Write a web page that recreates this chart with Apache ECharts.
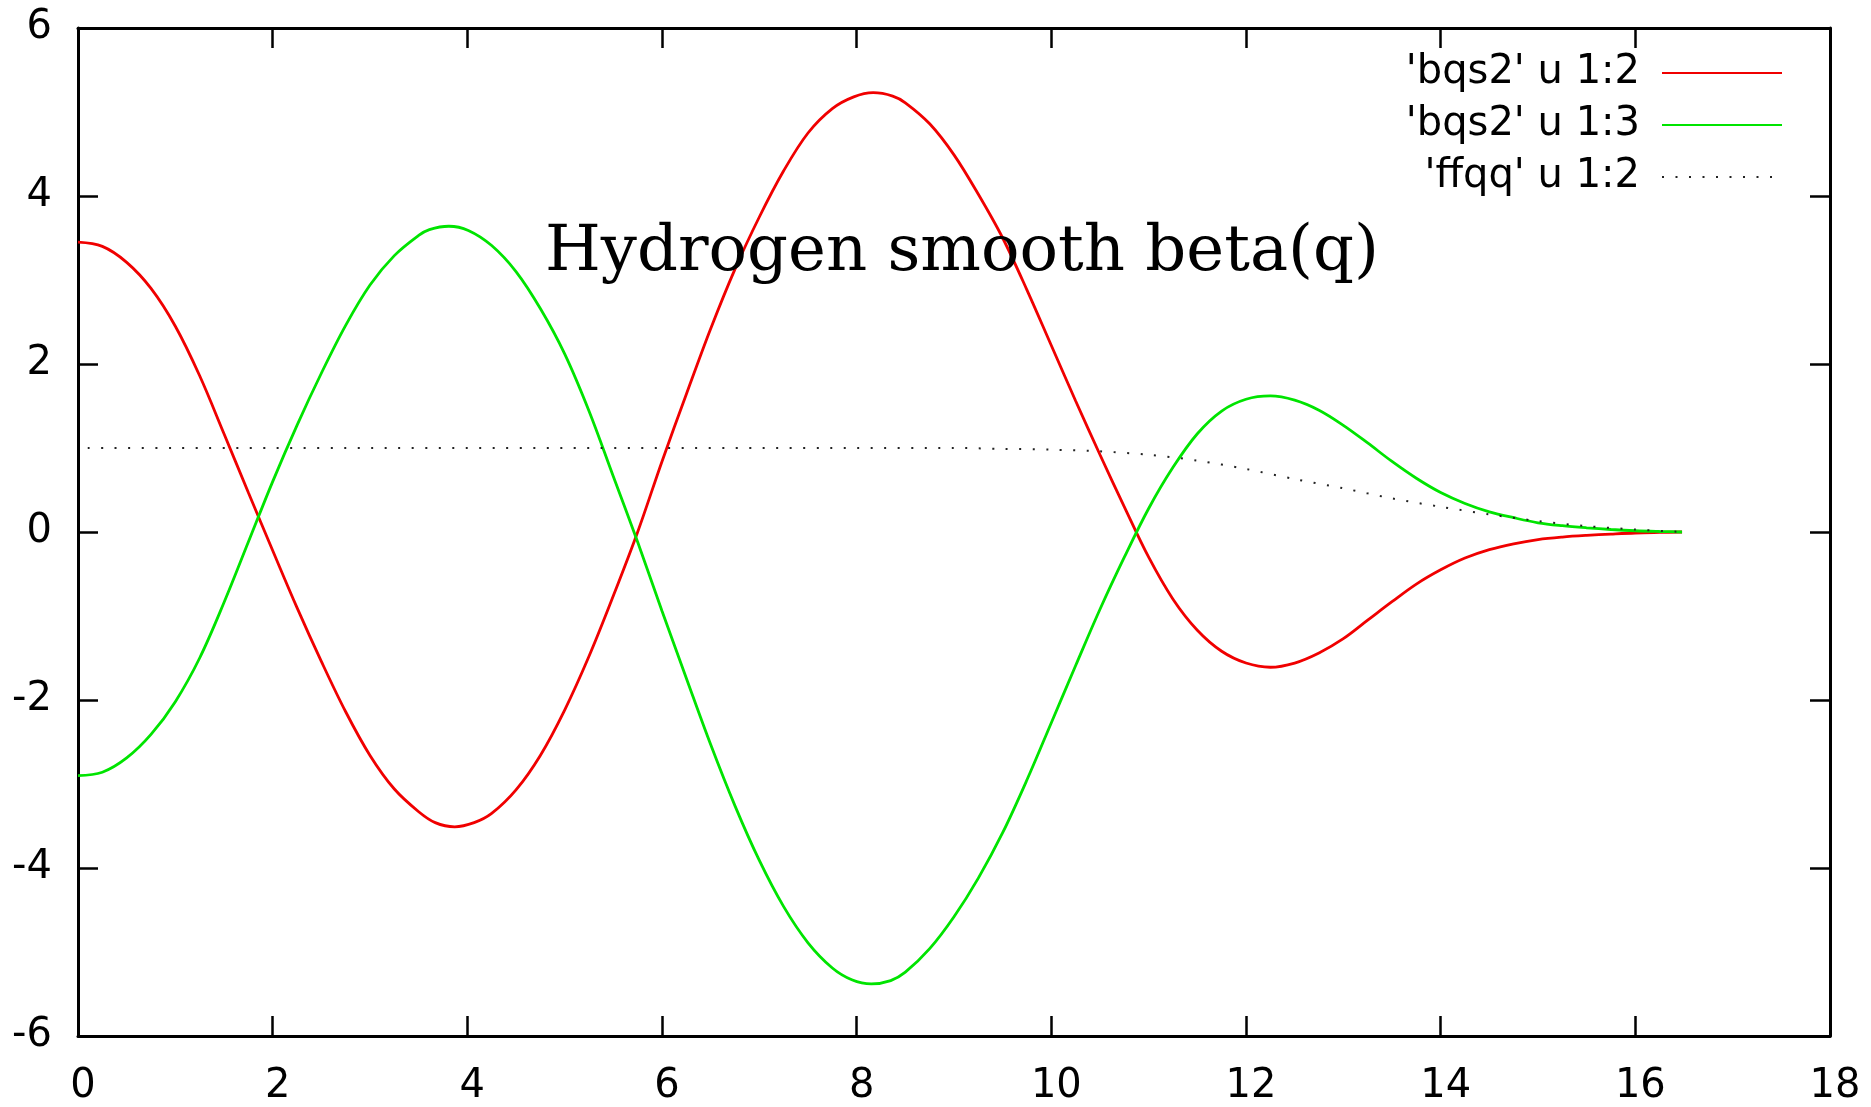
<!DOCTYPE html>
<html>
<head>
<meta charset="utf-8">
<title>Hydrogen smooth beta(q)</title>
<script src="https://cdn.jsdelivr.net/npm/echarts@6/dist/echarts.min.js"></script>
<style>
  html, body { margin: 0; padding: 0; background: #ffffff; }
  #chart { width: 1871px; height: 1107px; }
</style>
</head>
<body>
<div id="chart"></div>
<script>
// bqs2, column 2 against q (denser around the turning points)
const qBqs2Col2 = [0, 0.25, 0.5, 0.75, 1, 1.25, 1.5, 1.75, 2, 2.25, 2.5, 2.75, 3, 3.25, 3.5,
  3.67, 3.87, 4.07,
  4.25, 4.5, 4.75, 5, 5.25, 5.5, 5.75, 6, 6.25, 6.5, 6.75, 7, 7.25, 7.5, 7.75,
  7.97, 8.17, 8.37,
  8.5, 8.75, 9, 9.25, 9.5, 9.75, 10, 10.25, 10.5, 10.75, 11, 11.25, 11.5, 11.75,
  12, 12.25, 12.5, 12.75, 13, 13.25, 13.5, 13.75, 14, 14.25, 14.5, 14.75, 15, 15.25, 15.5, 15.75,
  16, 16.25, 16.48];
const bqs2Col2 = [3.45, 3.40, 3.21, 2.90, 2.45, 1.86, 1.17, 0.47, -0.22, -0.90, -1.54, -2.14, -2.66, -3.06, -3.33,
  -3.46, -3.51, -3.46,
  -3.35, -3.07, -2.66, -2.12, -1.48, -0.76, 0.00, 0.84, 1.64, 2.42, 3.13, 3.75, 4.30, 4.75, 5.04,
  5.18, 5.23, 5.19,
  5.11, 4.86, 4.49, 4.02, 3.50, 2.88, 2.22, 1.56, 0.92, 0.30, -0.30, -0.80, -1.17, -1.42,
  -1.56, -1.61, -1.56, -1.44, -1.27, -1.05, -0.83, -0.62, -0.45, -0.31, -0.21, -0.14, -0.09, -0.06, -0.04, -0.025,
  -0.012, -0.005, 0];

// bqs2, column 3 against q
const qBqs2Col3 = [0, 0.25, 0.5, 0.75, 1, 1.25, 1.5, 1.75, 2, 2.25, 2.5, 2.75, 3, 3.25, 3.5,
  3.61, 3.81, 4.01,
  4.25, 4.5, 4.75, 5, 5.25, 5.5, 5.75, 6, 6.25, 6.5, 6.75, 7, 7.25, 7.5, 7.75,
  7.95, 8.15, 8.35,
  8.5, 8.75, 9, 9.25, 9.5, 9.75, 10, 10.25, 10.5, 10.75, 11, 11.25, 11.5, 11.75,
  12, 12.25, 12.5, 12.75, 13, 13.25, 13.5, 13.75, 14, 14.25, 14.5, 14.75, 15, 15.25, 15.5, 15.75,
  16, 16.25, 16.48];
const bqs2Col3 = [-2.90, -2.86, -2.69, -2.41, -2.02, -1.50, -0.84, -0.12, 0.60, 1.27, 1.89, 2.46, 2.94, 3.29, 3.53,
  3.60, 3.64, 3.59,
  3.41, 3.10, 2.66, 2.12, 1.44, 0.66, -0.12, -0.94, -1.74, -2.53, -3.26, -3.91, -4.46, -4.89, -5.19,
  -5.33, -5.38, -5.34,
  -5.24, -4.96, -4.58, -4.12, -3.58, -2.95, -2.27, -1.59, -0.92, -0.30, 0.28, 0.77, 1.17, 1.44,
  1.58, 1.62, 1.57, 1.45, 1.27, 1.06, 0.84, 0.64, 0.47, 0.34, 0.24, 0.17, 0.11, 0.075, 0.05, 0.03,
  0.015, 0.006, 0];

// ffqq, column 2 against q
const qFfqq = [0.1, 1, 2, 3, 4, 5, 6, 7, 8, 9, 9.5, 10, 10.5, 11, 11.5, 12, 12.5, 13, 13.5, 14, 14.5, 15, 15.5, 16, 16.48];
const ffqqCol2 = [1, 1, 1, 1, 1, 1, 1, 1, 1, 1.0, 0.99, 0.98, 0.96, 0.92, 0.85, 0.75, 0.63, 0.52, 0.40, 0.30, 0.21, 0.13, 0.07, 0.03, 0.0];

const seriesNames = ["'bqs2' u 1:2", "'bqs2' u 1:3", "'ffqq' u 1:2"];
const titleText = 'Hydrogen smooth beta(q)';
const xRange = { min: 0, max: 18, step: 2 };
const yRange = { min: -6, max: 6, step: 2 };

const pairs = (xs, ys) => xs.map((x, i) => [x, ys[i]]);

const FONT = 'DejaVu Sans';
const frameLine = { show: true, onZero: false, lineStyle: { color: '#000', width: 3 } };
const tick = { show: true, inside: true, length: 20, lineStyle: { color: '#000', width: 2.5 } };

const chart = echarts.init(document.getElementById('chart'), null, { renderer: 'canvas' });

chart.setOption({
  animation: false,
  backgroundColor: '#ffffff',
  title: {
    text: titleText,
    left: 545,
    top: 221,
    padding: 0,
    textStyle: {
      fontFamily: 'DejaVu Serif',
      fontWeight: 'normal',
      fontSize: 64,
      lineHeight: 64,
      color: '#000'
    }
  },
  legend: {
    orient: 'vertical',
    right: 88,
    top: 53,
    padding: 0,
    align: 'right',
    itemWidth: 120,
    itemHeight: 20,
    itemGap: 12,
    selectedMode: false,
    itemStyle: { opacity: 0 },
    textStyle: {
      fontFamily: FONT,
      fontSize: 40,
      lineHeight: 40,
      color: '#000',
      padding: [0, 17, 0, 0]
    },
    data: seriesNames
  },
  grid: { left: 78, top: 28, width: 1752, height: 1008, containLabel: false },
  xAxis: [
    {
      type: 'value', position: 'bottom',
      min: xRange.min, max: xRange.max, interval: xRange.step,
      axisLine: frameLine, axisTick: tick,
      splitLine: { show: false },
      axisLabel: { fontFamily: FONT, fontSize: 40, color: '#000', margin: 31, padding: [0, 0, 0, 10] }
    },
    {
      type: 'value', position: 'top',
      min: xRange.min, max: xRange.max, interval: xRange.step,
      axisLine: frameLine, axisTick: tick,
      splitLine: { show: false }, axisLabel: { show: false }
    }
  ],
  yAxis: [
    {
      type: 'value', position: 'left',
      min: yRange.min, max: yRange.max, interval: yRange.step,
      axisLine: frameLine, axisTick: tick,
      splitLine: { show: false },
      axisLabel: { fontFamily: FONT, fontSize: 40, color: '#000', margin: 26 }
    },
    {
      type: 'value', position: 'right',
      min: yRange.min, max: yRange.max, interval: yRange.step,
      axisLine: frameLine, axisTick: tick,
      splitLine: { show: false }, axisLabel: { show: false }
    }
  ],
  series: [
    {
      name: seriesNames[0], type: 'line', xAxisIndex: 0, yAxisIndex: 0,
      data: pairs(qBqs2Col2, bqs2Col2),
      smooth: 0.35, symbol: 'none', silent: true,
      lineStyle: { color: '#f00000', width: 2.8 },
      itemStyle: { color: '#f00000' }
    },
    {
      name: seriesNames[1], type: 'line', xAxisIndex: 0, yAxisIndex: 0,
      data: pairs(qBqs2Col3, bqs2Col3),
      smooth: 0.35, symbol: 'none', silent: true,
      lineStyle: { color: '#00e400', width: 2.8 },
      itemStyle: { color: '#00e400' }
    },
    {
      name: seriesNames[2], type: 'line', xAxisIndex: 0, yAxisIndex: 0,
      data: pairs(qFfqq, ffqqCol2),
      smooth: 0.3, symbol: 'none', silent: true,
      lineStyle: { color: '#222', width: 2, type: [2, 11.5], cap: 'butt' },
      itemStyle: { color: '#222' }
    }
  ]
});
</script>
</body>
</html>
